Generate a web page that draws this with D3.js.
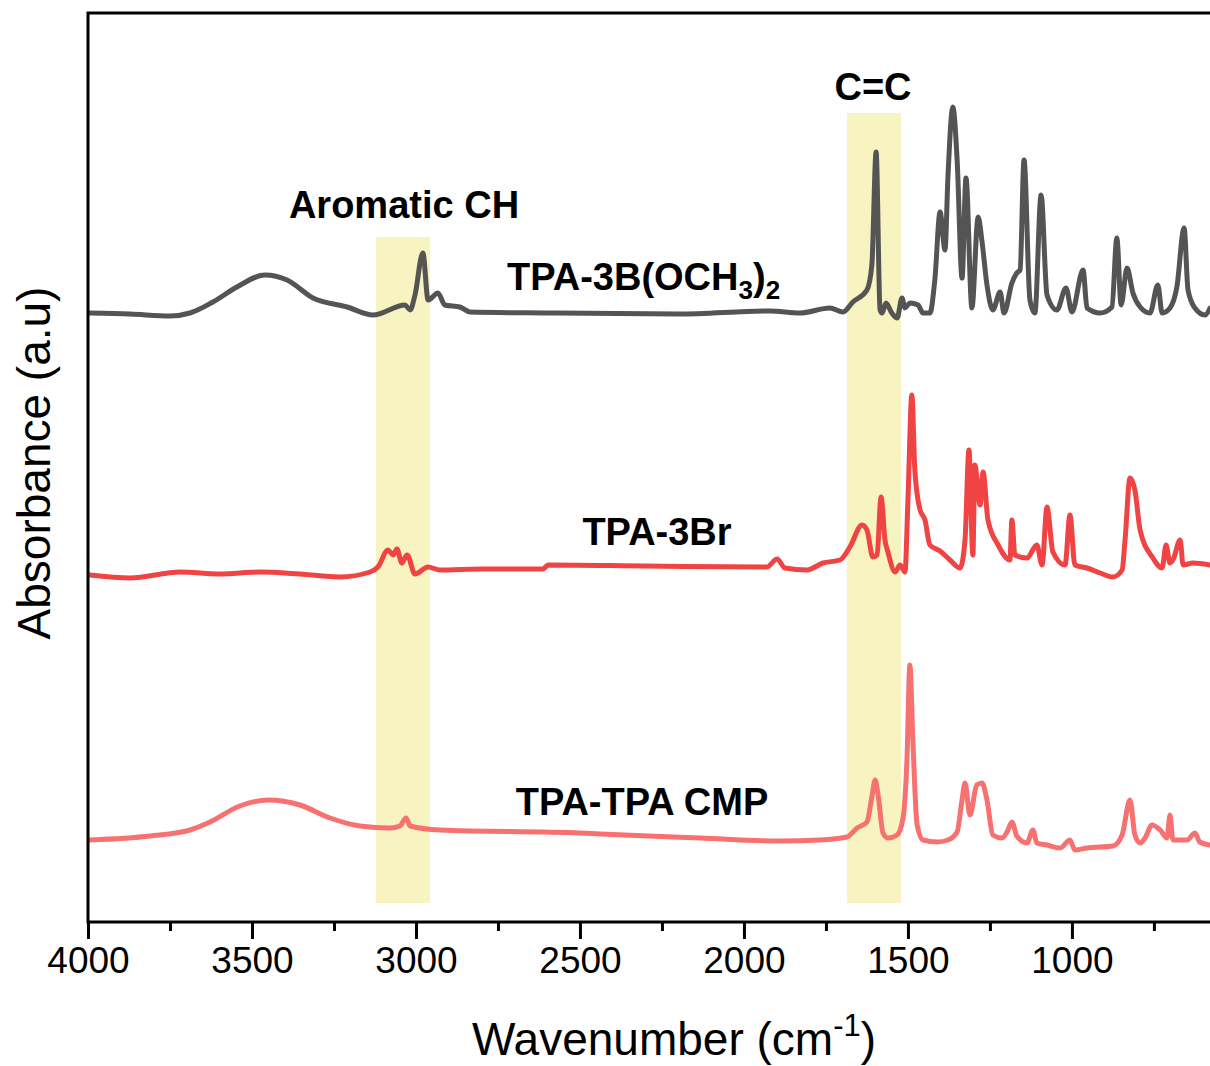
<!DOCTYPE html>
<html>
<head>
<meta charset="utf-8">
<script src="https://cdn.jsdelivr.net/npm/d3@7/dist/d3.min.js"></script>
<style>
  body { margin: 0; background: #fff; }
  svg { display: block; font-family: "Liberation Sans", Arial, sans-serif; }
</style>
</head>
<body>
<div id="chart"></div>
<script>
// spectra: [wavenumber (cm-1), absorbance (a.u., offset)]
var tpa3BOMe = [
  [3994, 609], [3872, 608], [3750, 606], [3689, 609], [3619, 620], [3546, 635],
  [3460, 647], [3393, 642], [3314, 624], [3210, 615], [3131, 607], [3033, 617],
  [3018, 612], [3003, 627], [2979, 669], [2963, 622], [2933, 629], [2912, 617],
  [2866, 615], [2835, 610], [2600, 609], [2200, 608], [1921, 611], [1829, 609],
  [1738, 614], [1698, 610], [1668, 620], [1625, 632], [1610, 657], [1597, 770],
  [1585, 612], [1579, 609], [1567, 619], [1549, 609], [1533, 604], [1518, 624],
  [1509, 614], [1494, 619], [1469, 617], [1454, 609], [1433, 609], [1418, 642],
  [1402, 710], [1387, 672], [1378, 745], [1363, 815], [1350, 762], [1335, 644],
  [1323, 744], [1305, 614], [1286, 705], [1274, 680], [1259, 637], [1241, 612],
  [1219, 630], [1207, 609], [1183, 639], [1168, 649], [1158, 652], [1146, 762],
  [1128, 622], [1113, 609], [1094, 727], [1076, 627], [1046, 612], [1018, 634],
  [1000, 610], [966, 652], [954, 614], [914, 609], [878, 615], [863, 684],
  [850, 617], [832, 654], [814, 629], [792, 615], [762, 609], [738, 637],
  [725, 609], [701, 614], [680, 635], [658, 694], [646, 632], [625, 614],
  [594, 607], [579, 614]
];

var tpa3Br = [
  [3994, 347], [3872, 344], [3719, 350], [3598, 348], [3476, 350], [3354, 348],
  [3232, 345], [3140, 350], [3116, 355], [3085, 372], [3070, 367], [3058, 373],
  [3043, 359], [3027, 367], [3003, 348], [2963, 355], [2927, 352], [2800, 353],
  [2613, 353], [2597, 357], [2300, 356], [1930, 355], [1899, 363], [1875, 354],
  [1808, 352], [1759, 359], [1707, 362], [1677, 375], [1640, 397], [1625, 392],
  [1607, 365], [1594, 367], [1582, 425], [1570, 382], [1561, 370], [1539, 350],
  [1524, 357], [1509, 350], [1500, 422], [1488, 527], [1479, 452], [1463, 412],
  [1448, 402], [1433, 377], [1402, 371], [1372, 362], [1341, 354], [1326, 382],
  [1314, 472], [1302, 367], [1296, 457], [1280, 417], [1271, 450], [1256, 402],
  [1225, 377], [1189, 362], [1183, 402], [1174, 367], [1137, 364], [1107, 377],
  [1091, 357], [1076, 415], [1058, 370], [1021, 357], [1006, 407], [991, 357],
  [954, 354], [914, 349], [875, 345], [847, 352], [838, 382], [823, 444],
  [808, 432], [792, 392], [753, 364], [725, 354], [713, 377], [701, 359],
  [692, 362], [670, 382], [661, 357], [631, 359], [579, 357]
];

var tpaCmp = [
  [3994, 82], [3811, 86], [3689, 92], [3628, 100], [3537, 116], [3451, 122],
  [3354, 117], [3262, 104], [3171, 96], [3079, 94], [3049, 96], [3030, 104],
  [3018, 96], [2927, 92], [2500, 89], [2439, 88], [2134, 84], [1890, 81],
  [1768, 82], [1686, 85], [1655, 94], [1625, 100], [1610, 125], [1600, 142],
  [1591, 127], [1576, 89], [1561, 84], [1533, 87], [1515, 104], [1503, 162],
  [1494, 257], [1485, 182], [1472, 97], [1454, 82], [1411, 80], [1378, 82],
  [1350, 90], [1335, 122], [1326, 139], [1311, 107], [1290, 137], [1274, 139],
  [1259, 122], [1241, 87], [1213, 84], [1195, 92], [1183, 100], [1168, 86],
  [1137, 79], [1119, 92], [1107, 79], [1076, 77], [1036, 74], [1006, 82],
  [991, 72], [954, 74], [875, 76], [847, 87], [823, 122], [808, 87],
  [792, 79], [777, 84], [756, 97], [731, 92], [710, 84], [701, 107],
  [692, 82], [649, 82], [625, 89], [610, 80], [579, 77]
];

var seriesColors = ['#545454', '#f04343', '#f87171'];
var majorTicks = [4000, 3500, 3000, 2500, 2000, 1500, 1000];
var minorTicks = [3750, 3250, 2750, 2250, 1750, 1250, 750];
var bands = [[3122, 2957], [1686, 1521]]; // highlighted regions (cm-1)

var W = 1210, H = 1066,
    LEFT = 88, TOP = 13, BOTTOM = 922;

var svg = d3.select('#chart')
  .append('svg')
  .attr('width', W)
  .attr('height', H);

var x = d3.scaleLinear().domain([4000, 579]).range([LEFT, W]);
var y = d3.scaleLinear().domain([0, 909]).range([BOTTOM, TOP]);

// highlight bands
svg.selectAll('rect.band')
  .data(bands)
  .enter()
  .append('rect')
  .attr('class', 'band')
  .attr('x', function(d) { return x(d[0]); })
  .attr('width', function(d) { return x(d[1]) - x(d[0]); })
  .attr('y', function(d, i) { return i === 0 ? 237 : 113; })
  .attr('height', function(d, i) { return 903 - (i === 0 ? 237 : 113); })
  .style('fill', '#f7f4c2');

var line = d3.line()
  .x(function(d) { return x(d[0]); })
  .y(function(d) { return y(d[1]); })
  .curve(d3.curveMonotoneX);

svg.selectAll('path.spectrum')
  .data([tpa3BOMe, tpa3Br, tpaCmp])
  .enter()
  .append('path')
  .attr('class', 'spectrum')
  .attr('d', line)
  .attr('fill', 'none')
  .attr('stroke', function(d, i) { return seriesColors[i]; })
  .attr('stroke-width', 5)
  .attr('stroke-linejoin', 'round')
  .attr('stroke-linecap', 'round');

// frame (right side runs off the picture)
svg.append('path')
  .attr('d', 'M' + (W + 10) + ',' + TOP + 'H' + LEFT + 'V' + BOTTOM + 'H' + (W + 10))
  .attr('fill', 'none')
  .attr('stroke', '#000')
  .attr('stroke-width', 3);

// x axis
var xAxis = d3.axisBottom(x)
  .tickValues(majorTicks)
  .tickSize(17)
  .tickPadding(8)
  .tickFormat(d3.format('d'));

var gx = svg.append('g')
  .attr('transform', 'translate(0,' + BOTTOM + ')')
  .call(xAxis);
gx.select('.domain').remove();
gx.selectAll('line').attr('stroke', '#000').attr('stroke-width', 3);
gx.selectAll('text')
  .attr('fill', '#000')
  .style('font-size', '37px')
  .attr('dy', '0.71em');

var gMinor = svg.append('g')
  .attr('transform', 'translate(0,' + BOTTOM + ')')
  .call(d3.axisBottom(x).tickValues(minorTicks).tickSize(9).tickFormat(''));
gMinor.select('.domain').remove();
gMinor.selectAll('line').attr('stroke', '#000').attr('stroke-width', 3);

// axis titles
var xTitle = svg.append('text')
  .attr('x', 674)
  .attr('y', 1055)
  .attr('text-anchor', 'middle')
  .style('font-size', '46px');
xTitle.append('tspan').text('Wavenumber (cm');
xTitle.append('tspan').attr('dy', -19).style('font-size', '31px').text('-1');
xTitle.append('tspan').attr('dy', 19).text(')');

svg.append('text')
  .attr('transform', 'translate(50,463) rotate(-90)')
  .attr('text-anchor', 'middle')
  .style('font-size', '46px')
  .text('Absorbance (a.u)');

// annotations
var labelStyle = function(sel) {
  sel.style('font-size', '38px').style('font-weight', 'bold').attr('fill', '#000');
};

svg.append('text').attr('x', 404).attr('y', 218).attr('text-anchor', 'middle')
  .call(labelStyle).text('Aromatic CH');
svg.append('text').attr('x', 873).attr('y', 100).attr('text-anchor', 'middle')
  .call(labelStyle).text('C=C');
svg.append('text').attr('x', 657).attr('y', 545).attr('text-anchor', 'middle')
  .call(labelStyle).text('TPA-3Br');
svg.append('text').attr('x', 642).attr('y', 815).attr('text-anchor', 'middle')
  .call(labelStyle).text('TPA-TPA CMP');

var ome = svg.append('text').attr('x', 507).attr('y', 290).call(labelStyle);
ome.append('tspan').text('TPA-3B(OCH');
ome.append('tspan').attr('dy', 9).style('font-size', '26px').text('3');
ome.append('tspan').attr('dy', -9).text(')');
ome.append('tspan').attr('dy', 9).style('font-size', '26px').text('2');
</script>
</body>
</html>
